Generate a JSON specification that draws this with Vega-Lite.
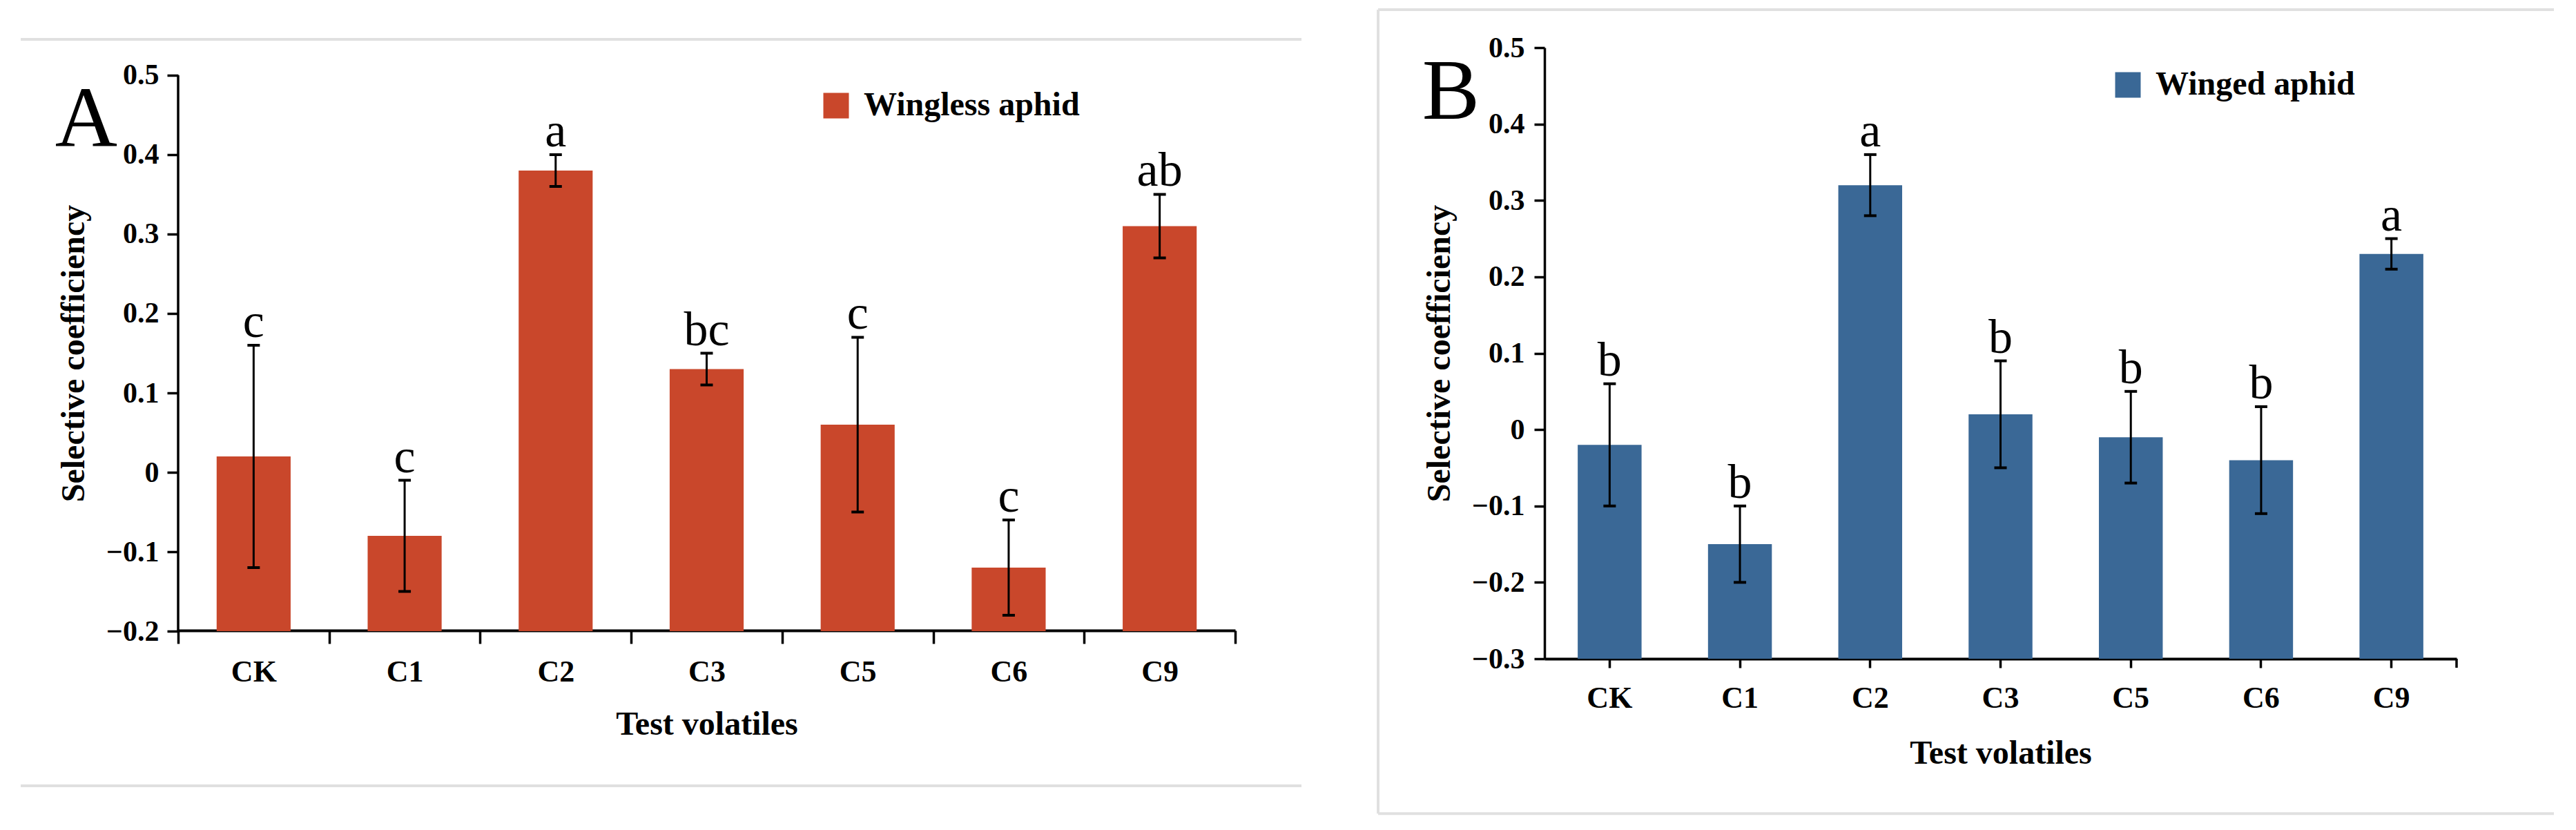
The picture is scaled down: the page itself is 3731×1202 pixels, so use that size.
{
  "$schema": "https://vega.github.io/schema/vega-lite/v6.json",
  "background": "white",
  "padding": {"left": 28, "top": 12, "right": 0, "bottom": 0},
  "bounds": "flush",
  "spacing": 448,
  "config": {
    "font": "Liberation Serif",
    "view": {"stroke": null},
    "axis": {
      "grid": false,
      "domainColor": "black",
      "tickColor": "black",
      "labelColor": "black",
      "titleColor": "black",
      "labelFontWeight": "bold",
      "titleFontWeight": "bold",
      "labelFontSize": 42,
      "titleFontSize": 48
    },
    "legend": {
      "orient": "none",
      "title": null,
      "padding": 0,
      "symbolType": "square",
      "symbolSize": 1369,
      "symbolStrokeWidth": 0,
      "symbolOpacity": 1,
      "labelFontSize": 48,
      "labelFontWeight": "bold",
      "labelColor": "black",
      "labelLimit": 0,
      "labelOffset": 16
    }
  },
  "resolve": {"scale": {"x": "independent", "y": "independent", "color": "independent"}, "legend": {"color": "independent"}},
  "hconcat": [
    {
      "width": 1531,
      "height": 885,
      "resolve": {"scale": {"x": "independent"}},
      "layer": [
        {
          "data": {"values": [{}]},
          "encoding": {
            "x": {"datum": -0.1489, "type": "quantitative", "scale": {"domain": [0, 1]}, "axis": null},
            "x2": {"datum": 1.0627}
          },
          "layer": [
            {
              "mark": {"type": "rule", "color": "#e0e0e0", "strokeWidth": 4},
              "encoding": {"y": {"datum": 0.5452, "type": "quantitative", "scale": {"domain": [-0.23478, 0.53478]}}}
            },
            {
              "mark": {"type": "rule", "color": "#e0e0e0", "strokeWidth": 4},
              "encoding": {"y": {"datum": -0.3948, "type": "quantitative", "scale": {"domain": [-0.23478, 0.53478]}}}
            }
          ]
        },
        {
          "data": {"values": [
            {"cat": "CK", "mean": 0.02, "lo": -0.12, "hi": 0.16, "sig": "c", "series": "Wingless aphid"},
            {"cat": "C1", "mean": -0.08, "lo": -0.15, "hi": -0.01, "sig": "c", "series": "Wingless aphid"},
            {"cat": "C2", "mean": 0.38, "lo": 0.36, "hi": 0.40, "sig": "a", "series": "Wingless aphid"},
            {"cat": "C3", "mean": 0.13, "lo": 0.11, "hi": 0.15, "sig": "bc", "series": "Wingless aphid"},
            {"cat": "C5", "mean": 0.06, "lo": -0.05, "hi": 0.17, "sig": "c", "series": "Wingless aphid"},
            {"cat": "C6", "mean": -0.12, "lo": -0.18, "hi": -0.06, "sig": "c", "series": "Wingless aphid"},
            {"cat": "C9", "mean": 0.31, "lo": 0.27, "hi": 0.35, "sig": "ab", "series": "Wingless aphid"}
          ]},
          "encoding": {
            "x": {
              "field": "cat", "type": "nominal",
              "scale": {"domain": ["CK", "C1", "C2", "C3", "C5", "C6", "C9"], "paddingInner": 0, "paddingOuter": 0},
              "axis": {
                "title": "Test volatiles",
                "orient": "bottom",
                "offset": -41,
                "labelAngle": 0,
                "tickBand": "extent",
                "tickSize": 19,
                "tickWidth": 3.5,
                "domainWidth": 4,
                "labelFontSize": 44,
                "labelPadding": 19,
                "titlePadding": 30
              }
            }
          },
          "layer": [
            {
              "mark": {"type": "bar", "width": {"band": 0.49}},
              "encoding": {
                "y": {
                  "field": "mean", "type": "quantitative",
                  "scale": {"domain": [-0.23478, 0.53478]},
                  "axis": {
                    "title": "Selective coefficiency",
                    "values": [-0.2, -0.1, 0, 0.1, 0.2, 0.3, 0.4, 0.5],
                    "labelExpr": "datum.value === 0 ? '0' : format(datum.value, '.1f')",
                    "domain": false,
                    "tickSize": 16,
                    "tickWidth": 3.5,
                    "labelPadding": 12,
                    "titlePadding": 22
                  }
                },
                "y2": {"datum": -0.2},
                "color": {
                  "field": "series", "type": "nominal",
                  "scale": {"domain": ["Wingless aphid"], "range": ["#C9472B"]},
                  "legend": {"legendX": 929, "legendY": 60}
                }
              }
            },
            {
              "mark": {"type": "rule", "color": "black", "strokeWidth": 3},
              "encoding": {
                "y": {"field": "lo", "type": "quantitative", "scale": {"domain": [-0.23478, 0.53478]}},
                "y2": {"field": "hi"}
              }
            },
            {
              "mark": {"type": "tick", "orient": "horizontal", "color": "black", "size": 18, "thickness": 4, "opacity": 1},
              "encoding": {"y": {"field": "hi", "type": "quantitative", "scale": {"domain": [-0.23478, 0.53478]}}}
            },
            {
              "mark": {"type": "tick", "orient": "horizontal", "color": "black", "size": 18, "thickness": 4, "opacity": 1},
              "encoding": {"y": {"field": "lo", "type": "quantitative", "scale": {"domain": [-0.23478, 0.53478]}}}
            },
            {
              "mark": {"type": "text", "fontSize": 70, "baseline": "alphabetic", "dy": -12, "color": "black"},
              "encoding": {
                "y": {"field": "hi", "type": "quantitative", "scale": {"domain": [-0.23478, 0.53478]}},
                "text": {"field": "sig"}
              }
            },
            {
              "data": {"values": [{}]},
              "mark": {"type": "rule", "color": "black", "strokeWidth": 3.5},
              "encoding": {
                "x": {"datum": "CK", "bandPosition": 0},
                "y": {"datum": -0.2, "type": "quantitative", "scale": {"domain": [-0.23478, 0.53478]}},
                "y2": {"datum": 0.5}
              }
            },
            {
              "data": {"values": [{}]},
              "mark": {"type": "text", "text": "A", "fontSize": 125, "align": "right", "baseline": "alphabetic", "dx": -88, "dy": -12, "color": "black"},
              "encoding": {
                "x": {"datum": "CK", "bandPosition": 0},
                "y": {"datum": 0.4, "type": "quantitative", "scale": {"domain": [-0.23478, 0.53478]}}
              }
            }
          ]
        }
      ]
    },
    {
      "width": 1321,
      "height": 885,
      "resolve": {"scale": {"x": "independent"}},
      "layer": [
        {
          "data": {"values": [{}]},
          "layer": [
            {
              "mark": {"type": "rule", "color": "#e0e0e0", "strokeWidth": 4},
              "encoding": {
                "x": {"datum": -0.1824, "type": "quantitative", "scale": {"domain": [0, 1]}, "axis": null},
                "x2": {"datum": 1.1067},
                "y": {"datum": 0.5497, "type": "quantitative", "scale": {"domain": [-0.3, 0.5]}}
              }
            },
            {
              "mark": {"type": "rule", "color": "#e0e0e0", "strokeWidth": 4},
              "encoding": {
                "x": {"datum": -0.1824, "type": "quantitative", "scale": {"domain": [0, 1]}, "axis": null},
                "x2": {"datum": 1.1067},
                "y": {"datum": -0.5027, "type": "quantitative", "scale": {"domain": [-0.3, 0.5]}}
              }
            },
            {
              "mark": {"type": "rule", "color": "#e0e0e0", "strokeWidth": 4},
              "encoding": {
                "x": {"datum": -0.1824, "type": "quantitative", "scale": {"domain": [0, 1]}, "axis": null},
                "y": {"datum": 0.5497, "type": "quantitative", "scale": {"domain": [-0.3, 0.5]}},
                "y2": {"datum": -0.5027}
              }
            }
          ]
        },
        {
          "data": {"values": [
            {"cat": "CK", "mean": -0.02, "lo": -0.10, "hi": 0.06, "sig": "b", "series": "Winged aphid"},
            {"cat": "C1", "mean": -0.15, "lo": -0.20, "hi": -0.10, "sig": "b", "series": "Winged aphid"},
            {"cat": "C2", "mean": 0.32, "lo": 0.28, "hi": 0.36, "sig": "a", "series": "Winged aphid"},
            {"cat": "C3", "mean": 0.02, "lo": -0.05, "hi": 0.09, "sig": "b", "series": "Winged aphid"},
            {"cat": "C5", "mean": -0.01, "lo": -0.07, "hi": 0.05, "sig": "b", "series": "Winged aphid"},
            {"cat": "C6", "mean": -0.04, "lo": -0.11, "hi": 0.03, "sig": "b", "series": "Winged aphid"},
            {"cat": "C9", "mean": 0.23, "lo": 0.21, "hi": 0.25, "sig": "a", "series": "Winged aphid"}
          ]},
          "encoding": {
            "x": {
              "field": "cat", "type": "nominal",
              "scale": {"domain": ["CK", "C1", "C2", "C3", "C5", "C6", "C9"], "paddingInner": 0, "paddingOuter": 0},
              "axis": {
                "title": "Test volatiles",
                "orient": "bottom",
                "labelAngle": 0,
                "tickBand": "center",
                "tickSize": 13,
                "tickWidth": 3.5,
                "domainWidth": 4,
                "labelFontSize": 44,
                "labelPadding": 22,
                "titlePadding": 34
              }
            }
          },
          "layer": [
            {
              "mark": {"type": "bar", "width": {"band": 0.49}},
              "encoding": {
                "y": {
                  "field": "mean", "type": "quantitative",
                  "scale": {"domain": [-0.3, 0.5]},
                  "axis": {
                    "title": "Selective coefficiency",
                    "values": [-0.3, -0.2, -0.1, 0, 0.1, 0.2, 0.3, 0.4, 0.5],
                    "labelExpr": "datum.value === 0 ? '0' : format(datum.value, '.1f')",
                    "domainWidth": 3.5,
                    "tickSize": 15,
                    "tickWidth": 3.5,
                    "labelPadding": 14,
                    "titlePadding": 22
                  }
                },
                "y2": {"datum": -0.3},
                "color": {
                  "field": "series", "type": "nominal",
                  "scale": {"domain": ["Winged aphid"], "range": ["#3A6896"]},
                  "legend": {"legendX": 821, "legendY": 30}
                }
              }
            },
            {
              "mark": {"type": "rule", "color": "black", "strokeWidth": 3},
              "encoding": {
                "y": {"field": "lo", "type": "quantitative", "scale": {"domain": [-0.3, 0.5]}},
                "y2": {"field": "hi"}
              }
            },
            {
              "mark": {"type": "tick", "orient": "horizontal", "color": "black", "size": 18, "thickness": 4, "opacity": 1},
              "encoding": {"y": {"field": "hi", "type": "quantitative", "scale": {"domain": [-0.3, 0.5]}}}
            },
            {
              "mark": {"type": "tick", "orient": "horizontal", "color": "black", "size": 18, "thickness": 4, "opacity": 1},
              "encoding": {"y": {"field": "lo", "type": "quantitative", "scale": {"domain": [-0.3, 0.5]}}}
            },
            {
              "mark": {"type": "text", "fontSize": 70, "baseline": "alphabetic", "dy": -12, "color": "black"},
              "encoding": {
                "y": {"field": "hi", "type": "quantitative", "scale": {"domain": [-0.3, 0.5]}},
                "text": {"field": "sig"}
              }
            },
            {
              "data": {"values": [{}]},
              "mark": {"type": "rule", "color": "black", "strokeWidth": 3.5},
              "encoding": {
                "x": {"datum": "C9", "bandPosition": 1},
                "y": {"datum": -0.3, "type": "quantitative", "scale": {"domain": [-0.3, 0.5]}},
                "y2": {"datum": -0.3118}
              }
            },
            {
              "data": {"values": [{}]},
              "mark": {"type": "text", "text": "B", "fontSize": 125, "align": "right", "baseline": "alphabetic", "dx": -94, "dy": -8, "color": "black"},
              "encoding": {
                "x": {"datum": "CK", "bandPosition": 0},
                "y": {"datum": 0.4, "type": "quantitative", "scale": {"domain": [-0.3, 0.5]}}
              }
            }
          ]
        }
      ]
    }
  ]
}
